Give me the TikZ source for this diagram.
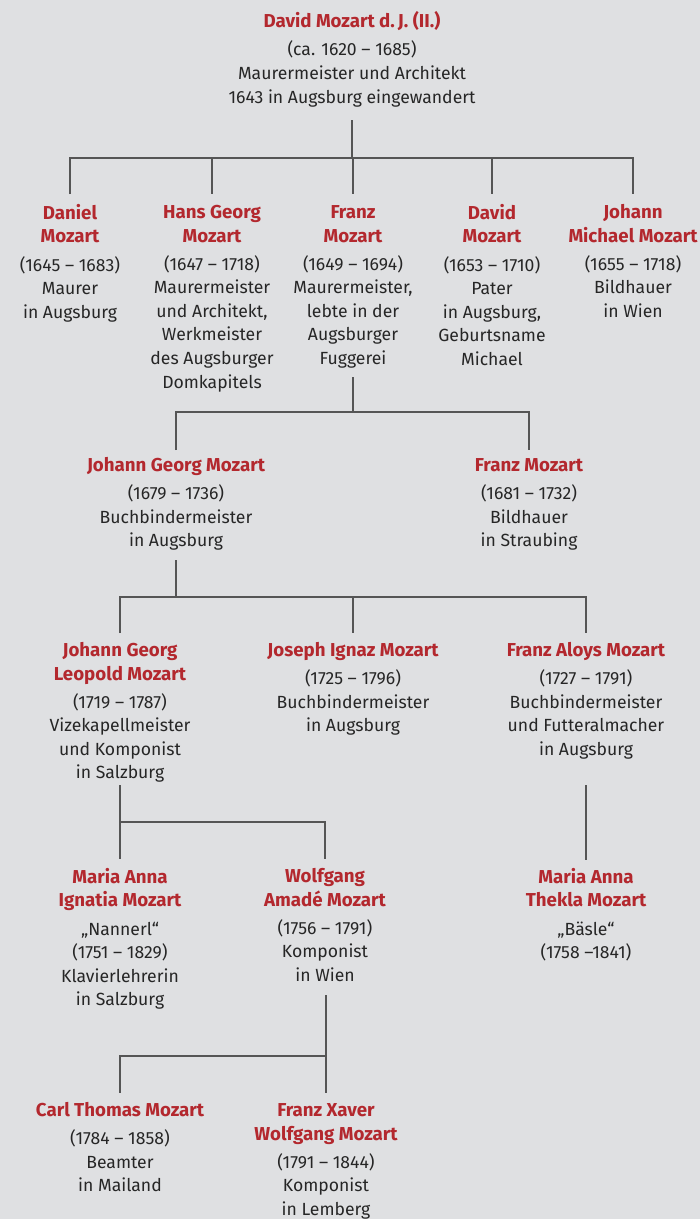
\documentclass[tikz,border=0pt]{standalone}
\usepackage{fontspec}
\setmainfont{Fira Sans}
\usepackage{xcolor}
\definecolor{bgc}{HTML}{DFE0E2}
\definecolor{mozred}{HTML}{B3282E}
\definecolor{txtc}{HTML}{262626}
\definecolor{linec}{HTML}{555555}
\newcommand\nm[1]{{\fontsize{18.7}{23.6}\selectfont\bfseries\color{mozred}\vphantom{l}#1}}
\tikzset{
  person/.style={anchor=north, align=center, inner sep=0pt, text=txtc,
    font=\fontsize{17.6}{23.6}\selectfont},
  conn/.style={draw=linec, line width=2.8pt, line cap=butt, line join=miter}
}
\begin{document}
\begin{tikzpicture}[x=1pt,y=-1pt]
\fill[bgc] (0,0) rectangle (700,1219);
\useasboundingbox (0,0) rectangle (700,1219);

% generation 1
\node[person] (david1) at (352,11) {\nm{David Mozart d.\,J. (II.)}\\[5pt](ca. 1620 – 1685)\\Maurermeister und Architekt\\1643 in Augsburg eingewandert};

% generation 2
\node[person] (daniel) at (70,204) {\nm{Daniel}\\\nm{Mozart}\\[4.5pt](1645 – 1683)\\Maurer\\in Augsburg};
\node[person] (hansgeorg) at (212,204) {\nm{Hans Georg}\\\nm{Mozart}\\[4.5pt](1647 – 1718)\\Maurermeister\\und Architekt,\\Werkmeister\\des Augsburger\\Domkapitels};
\node[person] (franz1) at (353,204) {\nm{Franz}\\\nm{Mozart}\\[4.5pt](1649 – 1694)\\Maurermeister,\\lebte in der\\Augsburger\\Fuggerei};
\node[person] (david2) at (492,204) {\nm{David}\\\nm{Mozart}\\[4.5pt](1653 – 1710)\\Pater\\in Augsburg,\\Geburtsname\\Michael};
\node[person] (johannm) at (633,204) {\nm{Johann}\\\nm{Michael Mozart}\\[4.5pt](1655 – 1718)\\Bildhauer\\in Wien};

% generation 3
\node[person] (jgeorg) at (176,457) {\nm{Johann Georg Mozart}\\[4.5pt](1679 – 1736)\\Buchbindermeister\\in Augsburg};
\node[person] (franz2) at (529,457) {\nm{Franz Mozart}\\[4.5pt](1681 – 1732)\\Bildhauer\\in Straubing};

% generation 4
\node[person] (leopold) at (120,642) {\nm{Johann Georg}\\\nm{Leopold Mozart}\\[4.5pt](1719 – 1787)\\Vizekapellmeister\\und Komponist\\in Salzburg};
\node[person] (joseph) at (353,642) {\nm{Joseph Ignaz Mozart}\\[4.5pt](1725 – 1796)\\Buchbindermeister\\in Augsburg};
\node[person] (aloys) at (586,642) {\nm{Franz Aloys Mozart}\\[4.5pt](1727 – 1791)\\Buchbindermeister\\und Futteralmacher\\in Augsburg};

% generation 5
\node[person] (nannerl) at (120,868) {\nm{Maria Anna}\\\nm{Ignatia Mozart}\\[4.5pt]„Nannerl“\\(1751 – 1829)\\Klavierlehrerin\\in Salzburg};
\node[person] (wolfgang) at (325,868) {\nm{Wolfgang}\\\nm{Amadé Mozart}\\[4.5pt](1756 – 1791)\\Komponist\\in Wien};
\node[person] (thekla) at (586,868) {\nm{Maria Anna}\\\nm{Thekla Mozart}\\[4.5pt]„Bäsle“\\(1758 –1841)};

% generation 6
\node[person] (carl) at (120,1102) {\nm{Carl Thomas Mozart}\\[4.5pt](1784 – 1858)\\Beamter\\in Mailand};
\node[person] (xaver) at (326,1102) {\nm{Franz Xaver}\\\nm{Wolfgang Mozart}\\[4.5pt](1791 – 1844)\\Komponist\\in Lemberg};

% connector coordinates
\coordinate (s1) at (david1.south |- 0,120);
\coordinate (b1) at (352,158);
\coordinate (s2) at (franz1.south |- 0,377);
\coordinate (b2) at (353,412);
\coordinate (s3) at (jgeorg.south |- 0,560);
\coordinate (b3) at (176,597);
\coordinate (s4) at (leopold.south |- 0,785);
\coordinate (b4) at (120,822);
\coordinate (s5) at (aloys.south |- 0,785);
\coordinate (s6) at (xaver.north |- 0,995);
\coordinate (b6) at (326,1056);

% gen 1 -> 2
\draw[conn] (s1) -- (b1);
\draw[conn] (daniel.north |- 0,194) -- (daniel.north |- b1) -- (johannm.north |- b1) -- (johannm.north |- 0,194);
\draw[conn] (hansgeorg.north |- b1) -- (hansgeorg.north |- 0,194);
\draw[conn] (franz1.north |- b1) -- (franz1.north |- 0,194);
\draw[conn] (david2.north |- b1) -- (david2.north |- 0,194);

% gen 2 -> 3
\draw[conn] (s2) -- (b2);
\draw[conn] (jgeorg.north |- 0,450) -- (jgeorg.north |- b2) -- (franz2.north |- b2) -- (franz2.north |- 0,450);

% gen 3 -> 4
\draw[conn] (s3) -- (b3);
\draw[conn] (leopold.north |- 0,633) -- (leopold.north |- b3) -- (aloys.north |- b3) -- (aloys.north |- 0,633);
\draw[conn] (joseph.north |- b3) -- (joseph.north |- 0,633);

% gen 4 -> 5
\draw[conn] (s4) -- (nannerl.north |- 0,859);
\draw[conn] (b4) -- (wolfgang.north |- b4) -- (wolfgang.north |- 0,859);
\draw[conn] (s5) -- (thekla.north |- 0,860);

% gen 5 -> 6
\draw[conn] (s6) -- (xaver.north |- 0,1093);
\draw[conn] (b6) -- (carl.north |- b6) -- (carl.north |- 0,1093);
\end{tikzpicture}
\end{document}
